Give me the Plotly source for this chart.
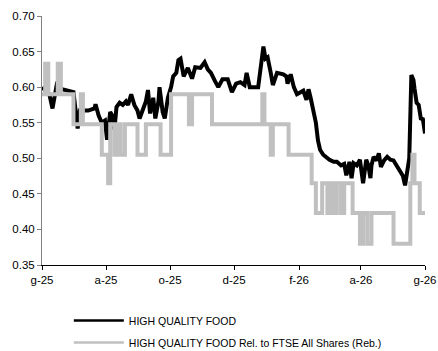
import plotly.graph_objects as go

# ---- data ----
black_dates = [
    "2025-06-01", "2025-06-04", "2025-06-08", "2025-06-11", "2025-06-15", "2025-06-20",
    "2025-06-28", "2025-07-01", "2025-07-05", "2025-07-07", "2025-07-15", "2025-07-21",
    "2025-07-22", "2025-07-25", "2025-07-28", "2025-07-31", "2025-08-02", "2025-08-05",
    "2025-08-07", "2025-08-09", "2025-08-11", "2025-08-14", "2025-08-17", "2025-08-20",
    "2025-08-22", "2025-08-25", "2025-08-28", "2025-08-31", "2025-09-02", "2025-09-05",
    "2025-09-08", "2025-09-10", "2025-09-12", "2025-09-15", "2025-09-17", "2025-09-20",
    "2025-09-21", "2025-09-24", "2025-09-26", "2025-09-29", "2025-10-02", "2025-10-04",
    "2025-10-07", "2025-10-09", "2025-10-11", "2025-10-14", "2025-10-18", "2025-10-22",
    "2025-10-25", "2025-10-30", "2025-11-03", "2025-11-06", "2025-11-09", "2025-11-13",
    "2025-11-16", "2025-11-20", "2025-11-25", "2025-11-29", "2025-12-03", "2025-12-07",
    "2025-12-11", "2025-12-13", "2025-12-16", "2025-12-24", "2025-12-27", "2025-12-29",
    "2025-12-31", "2026-01-02", "2026-01-05", "2026-01-07", "2026-01-11", "2026-01-17",
    "2026-01-20", "2026-01-21", "2026-01-24", "2026-01-27", "2026-01-30", "2026-02-02",
    "2026-02-05", "2026-02-08", "2026-02-10", "2026-02-12", "2026-02-14", "2026-02-17",
    "2026-02-19", "2026-02-21", "2026-02-24", "2026-02-28", "2026-03-02", "2026-03-06",
    "2026-03-09", "2026-03-13", "2026-03-16", "2026-03-18", "2026-03-21", "2026-03-23",
    "2026-03-25", "2026-03-28", "2026-03-31", "2026-04-03", "2026-04-06", "2026-04-08",
    "2026-04-10", "2026-04-11", "2026-04-13", "2026-04-16", "2026-04-18", "2026-04-20",
    "2026-04-23", "2026-04-26", "2026-04-29", "2026-05-02", "2026-05-04", "2026-05-06",
    "2026-05-09", "2026-05-11", "2026-05-13", "2026-05-15", "2026-05-17", "2026-05-19",
    "2026-05-21", "2026-05-22", "2026-05-24", "2026-05-26", "2026-05-28", "2026-05-30",
    "2026-06-01",
]
black_values = [
    0.600, 0.595, 0.590, 0.570, 0.603, 0.597,
    0.595, 0.593, 0.542, 0.567, 0.567, 0.570,
    0.576, 0.560, 0.550, 0.553, 0.526, 0.565,
    0.560, 0.540, 0.572, 0.578, 0.575, 0.580,
    0.575, 0.590, 0.575, 0.567, 0.556, 0.567,
    0.580, 0.596, 0.563, 0.585, 0.556, 0.580,
    0.600, 0.565, 0.556, 0.585, 0.600, 0.615,
    0.620, 0.638, 0.640, 0.615, 0.627, 0.612,
    0.628, 0.627, 0.635, 0.625, 0.620, 0.608,
    0.600, 0.611, 0.611, 0.593, 0.605, 0.607,
    0.603, 0.620, 0.600, 0.600, 0.630, 0.657,
    0.640, 0.642, 0.620, 0.603, 0.620, 0.618,
    0.615, 0.605, 0.618, 0.600, 0.590, 0.592,
    0.595, 0.582, 0.597, 0.585, 0.572, 0.550,
    0.525, 0.512, 0.505, 0.500, 0.498, 0.495,
    0.495, 0.490, 0.492, 0.476, 0.495, 0.472,
    0.493, 0.490, 0.498, 0.465, 0.498, 0.490,
    0.472, 0.490, 0.502, 0.497, 0.507, 0.488,
    0.497, 0.502, 0.498, 0.497, 0.492, 0.488,
    0.480, 0.475, 0.462, 0.483, 0.500, 0.617,
    0.610, 0.598, 0.578, 0.575, 0.556, 0.555,
    0.535,
]

grey_dates = [
    "2025-06-01", "2025-06-04", "2025-06-07", "2025-06-16", "2025-06-19", "2025-07-01",
    "2025-07-08", "2025-07-10", "2025-07-28", "2025-08-03", "2025-08-05", "2025-08-09",
    "2025-08-12", "2025-08-15", "2025-08-19", "2025-08-31", "2025-09-08", "2025-09-22",
    "2025-10-02", "2025-10-19", "2025-10-22", "2025-11-10", "2025-12-28", "2025-12-30",
    "2026-01-05", "2026-01-07", "2026-01-22", "2026-02-13", "2026-02-17", "2026-02-23",
    "2026-02-28", "2026-03-03", "2026-03-06", "2026-03-09", "2026-03-13", "2026-03-16",
    "2026-03-24", "2026-03-31", "2026-04-03", "2026-04-07", "2026-04-11", "2026-05-02",
    "2026-05-18", "2026-05-20", "2026-05-22", "2026-05-27", "2026-06-01",
]
grey_values = [
    0.590, 0.633, 0.590, 0.633, 0.590, 0.548,
    0.590, 0.548, 0.505, 0.465, 0.548, 0.505,
    0.548, 0.505, 0.548, 0.505, 0.548, 0.505,
    0.590, 0.548, 0.590, 0.548, 0.590, 0.548,
    0.505, 0.548, 0.505, 0.465, 0.423, 0.465,
    0.423, 0.465, 0.423, 0.465, 0.423, 0.465,
    0.423, 0.380, 0.423, 0.380, 0.423, 0.380,
    0.465, 0.505, 0.465, 0.423, 0.423,
]

tick_dates = ["2025-06-01", "2025-08-01", "2025-10-01", "2025-12-01",
              "2026-02-01", "2026-04-01", "2026-06-01"]
tick_labels = ["g-25", "a-25", "o-25", "d-25", "f-26", "a-26", "g-26"]

name_black = "HIGH QUALITY FOOD"
name_grey = "HIGH QUALITY FOOD Rel. to FTSE All Shares (Reb.)"
color_black = "#000000"
color_grey = "#C0C0C0"

# ---- figure ----
fig = go.Figure()
fig.add_trace(go.Scatter(
    x=black_dates, y=black_values, mode="lines", name=name_black,
    line=dict(color=color_black, width=4), showlegend=False,
))
fig.add_trace(go.Scatter(
    x=grey_dates, y=grey_values, mode="lines", name=name_grey,
    line=dict(color=color_grey, width=4, shape="hv"), showlegend=False,
))
# legend entries (thinner sample lines, as in the reference legend)
fig.add_trace(go.Scatter(
    x=[None], y=[None], mode="lines", name=name_black,
    line=dict(color=color_black, width=2.5), legendrank=1, legendgroup="a",
))
fig.add_trace(go.Scatter(
    x=[None], y=[None], mode="lines", name=name_grey,
    line=dict(color=color_grey, width=2.5), legendrank=2, legendgroup="b",
))

fig.update_layout(
    width=438, height=351,
    margin=dict(l=42, r=13, t=16, b=86, autoexpand=False),
    paper_bgcolor="white", plot_bgcolor="white",
    font=dict(family="Liberation Sans, Arial, sans-serif", size=11.5, color="#000000"),
    showlegend=True,
    legend=dict(
        x=0.07, xanchor="left", y=-0.165, yanchor="top",
        orientation="v", font=dict(size=10.5), tracegroupgap=3,
        itemwidth=50, bgcolor="rgba(0,0,0,0)",
    ),
    xaxis=dict(
        type="date", range=["2025-06-01", "2026-06-01"],
        tickvals=tick_dates, ticktext=tick_labels,
        showgrid=False, zeroline=False, showline=True,
        linecolor="#000000", linewidth=1,
        ticks="outside", ticklen=4, tickcolor="#000000",
    ),
    yaxis=dict(
        range=[0.35, 0.70], dtick=0.05, tick0=0.35, tickformat=".2f",
        showgrid=False, zeroline=False, showline=True,
        linecolor="#808080", linewidth=1,
        ticks="outside", ticklen=4, tickcolor="#808080",
    ),
)

fig.write_html(
    "out.html",
    config={"displayModeBar": False},
    post_script="document.body.style.margin='0';",
)
